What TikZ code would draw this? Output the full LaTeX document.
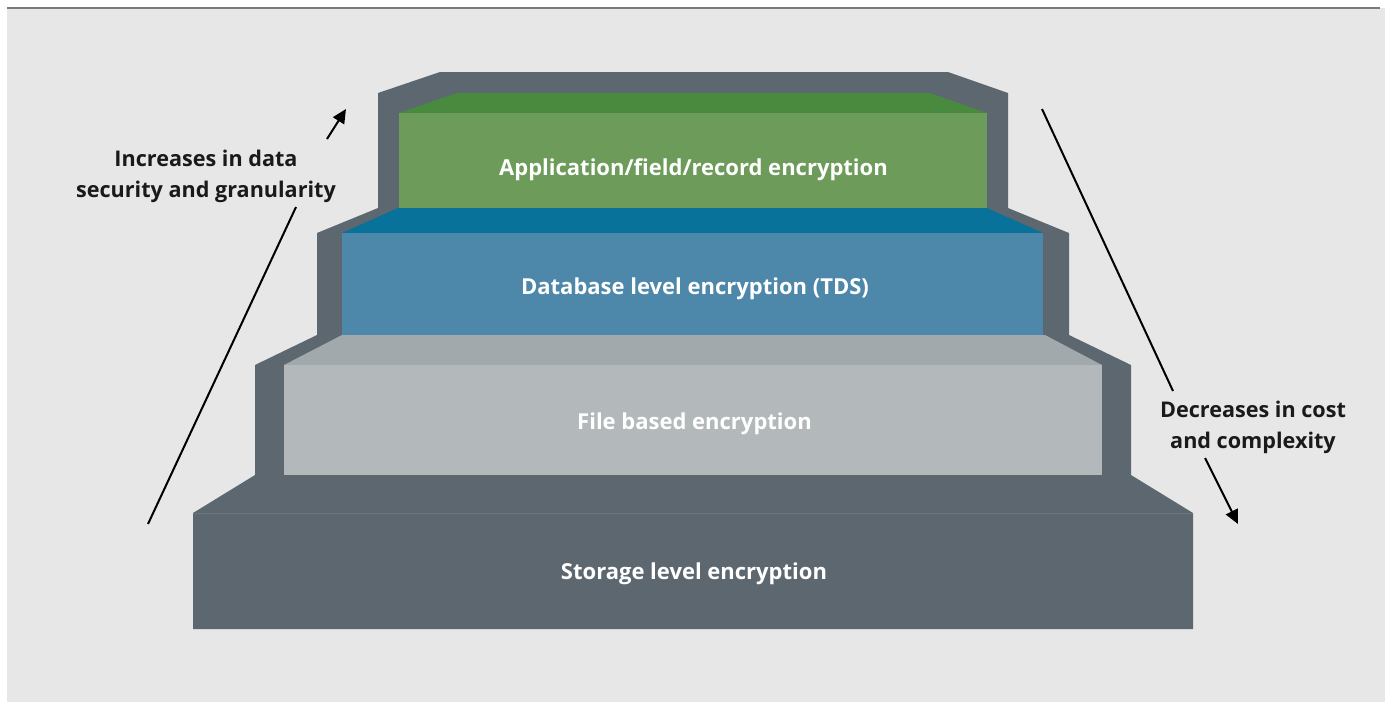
\documentclass[tikz,border=0pt]{standalone}
\usepackage{fontspec}
\setmainfont{Open Sans}
\usetikzlibrary{arrows.meta}
\definecolor{pagebg}{HTML}{E7E7E7}
\definecolor{rulegrey}{HTML}{7A7A7A}
\definecolor{frame}{HTML}{5C6770}
\definecolor{frameedge}{HTML}{6A757D}
\definecolor{greentop}{HTML}{4A8A3E}
\definecolor{greenfront}{HTML}{6C9B5A}
\definecolor{bluetop}{HTML}{08729A}
\definecolor{bluefront}{HTML}{4D87A9}
\definecolor{greytop}{HTML}{A2A9AD}
\definecolor{greyfront}{HTML}{B3B8BB}
\definecolor{labelink}{HTML}{1A1A1A}
\tikzset{
  steplabel/.style={text=white, font=\fontsize{22}{26}\selectfont\bfseries, inner sep=0pt, anchor=base},
  sidelabel/.style={text=labelink, font=\fontsize{21.6}{31}\selectfont\bfseries, inner sep=0pt, align=center},
  trend/.style={draw=black, line width=2pt},
  trendarrow/.style={trend, -{Triangle[length=14pt,width=13pt]}}
}
\begin{document}
\begin{tikzpicture}[x=1pt,y=-1pt]
  \useasboundingbox (0,0) rectangle (1385,702);
  % page background and top rule
  \fill[white] (0,0) rectangle (1385,702);
  \fill[pagebg] (7,8) rectangle (1385,702);
  \draw[rulegrey, line width=2pt] (7,7.5) -- (1380,7.5);

  % dark silhouette of the staircase
  \fill[frame] (193,629) -- (193,513) -- (255,475) -- (255,365) -- (317,335)
    -- (317,233) -- (378,208) -- (378,93) -- (440,72) -- (948,72) -- (1008,93)
    -- (1008,208) -- (1069,233) -- (1069,335) -- (1131,365) -- (1131,475)
    -- (1193,513) -- (1193,629) -- cycle;
  \draw[frameedge, line width=0.8pt] (193,513) -- (1193,513);

  % top step
  \fill[greentop] (399,113) -- (457,93) -- (930,93) -- (987,113) -- cycle;
  \fill[greenfront] (399,113) rectangle (987,208);
  % second step
  \fill[bluetop] (342,233) -- (398,208) -- (987,208) -- (1043,233) -- cycle;
  \fill[bluefront] (342,233) rectangle (1043,335);
  % third step
  \fill[greytop] (284,365) -- (342,335) -- (1045,335) -- (1102,365) -- cycle;
  \fill[greyfront] (284,365) rectangle (1102,475);

  % step captions
  \node[steplabel] (app) at (693.5,175) {Application/field/record encryption};
  \node[steplabel] (db) at (695,294) {Database level encryption (TDS)};
  \node[steplabel] (file) at (694.5,429) {File based encryption};
  \node[steplabel] (storage) at (694,579) {Storage level encryption};

  % side captions
  \node[sidelabel] (incr) at (206,176) {Increases in data\\security and granularity};
  \node[sidelabel] (decr) at (1253,427) {Decreases in cost\\and complexity};

  % trend lines
  \coordinate (incrlow) at (148,524);
  \coordinate (incrmid) at (296,207);
  \coordinate (incrtail) at (327,139);
  \coordinate (incrtip) at (346,109);
  \coordinate (decrtop) at (1042,109);
  \coordinate (decrmid) at (1173,391);
  \coordinate (decrtail) at (1205,458);
  \coordinate (decrtip) at (1238,524);
  \draw[trend] (incrlow) -- (incrmid);
  \draw[trendarrow] (incrtail) -- (incrtip);
  \draw[trend] (decrtop) -- (decrmid);
  \draw[trendarrow] (decrtail) -- (decrtip);
\end{tikzpicture}
\end{document}
